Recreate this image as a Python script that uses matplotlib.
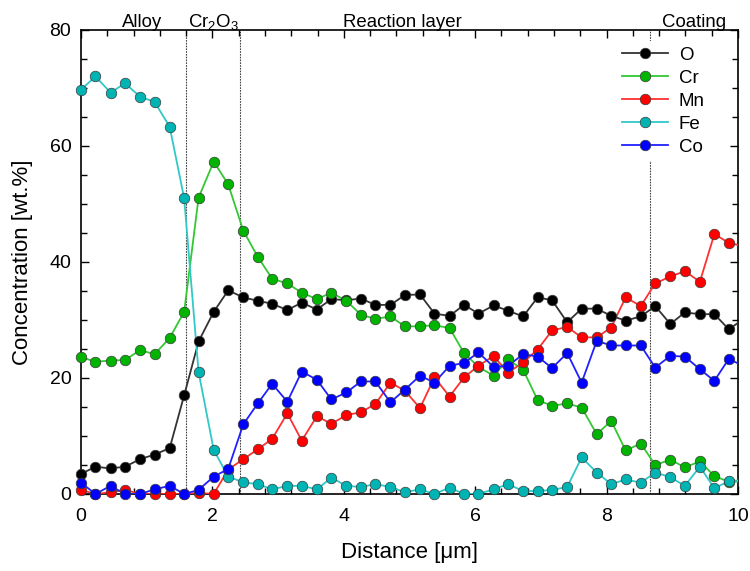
import numpy as np
import matplotlib
matplotlib.use("Agg")
import matplotlib.pyplot as plt
from matplotlib.lines import Line2D
from matplotlib.ticker import MultipleLocator

plt.rcParams['font.family'] = ['Liberation Sans', 'DejaVu Sans']
plt.rcParams['mathtext.fontset'] = 'custom'
plt.rcParams['mathtext.rm'] = 'Liberation Sans'
plt.rcParams['mathtext.it'] = 'Liberation Sans:italic'

distance = [0.00, 0.22, 0.45, 0.67, 0.90, 1.12, 1.35, 1.57, 1.79, 2.02, 2.24, 2.47,
            2.69, 2.91, 3.14, 3.36, 3.59, 3.81, 4.04, 4.26, 4.48, 4.71, 4.93, 5.16,
            5.38, 5.61, 5.83, 6.05, 6.28, 6.50, 6.73, 6.95, 7.17, 7.40, 7.62, 7.85,
            8.07, 8.29, 8.52, 8.74, 8.97, 9.19, 9.42, 9.64, 9.86, 10.09]

O = [3.45, 4.7, 4.4, 4.7, 6.0, 6.8, 7.9, 17.0, 26.3, 31.4, 35.1, 33.9, 33.3, 32.8,
     31.7, 33.0, 31.8, 33.6, 33.4, 33.7, 32.6, 32.6, 34.3, 34.4, 31.1, 30.7, 32.6,
     31.1, 32.5, 31.6, 30.6, 33.9, 33.4, 29.6, 31.95, 31.95, 30.7, 29.9, 30.6, 32.4,
     29.3, 31.3, 31.0, 31.0, 28.4, 30.2]
Cr = [23.6, 22.8, 23.0, 23.1, 24.8, 24.1, 26.9, 31.4, 51.1, 57.3, 53.4, 45.4, 40.9,
      37.1, 36.3, 34.7, 33.6, 34.7, 33.3, 30.9, 30.2, 30.6, 28.9, 28.9, 29.1, 28.6,
      24.3, 21.9, 20.4, 23.2, 21.4, 16.2, 15.2, 15.6, 14.9, 10.3, 12.6, 7.5, 8.7, 5.0,
      5.9, 4.6, 5.6, 3.1, 2.1, 2.2]
Mn = [0.7, 0.0, 0.3, 0.7, 0.0, 0.0, 0.0, 0.0, 0.2, 0.0, 4.2, 6.0, 7.7, 9.5, 13.9, 9.2,
      13.4, 12.1, 13.6, 14.1, 15.5, 19.2, 17.8, 14.8, 20.1, 16.8, 20.1, 22.1, 23.8,
      20.9, 22.7, 24.9, 28.2, 28.8, 27.0, 27.0, 28.7, 33.9, 32.4, 36.3, 37.5, 38.4,
      36.6, 44.8, 43.3, 42.7]
Fe = [69.7, 72.0, 69.2, 70.8, 68.5, 67.6, 63.3, 51.0, 21.0, 7.6, 3.0, 2.0, 1.7, 0.8,
      1.4, 1.4, 0.8, 2.8, 1.4, 1.2, 1.7, 1.2, 0.3, 0.8, 0.0, 1.1, 0.0, 0.0, 0.8, 1.7,
      0.5, 0.5, 0.7, 1.2, 6.3, 3.7, 1.7, 2.5, 1.95, 3.7, 2.9, 1.4, 4.7, 1.0, 2.2, 2.4]
Co = [1.95, 0.0, 1.4, 0.0, 0.0, 0.8, 1.4, 0.0, 0.7, 3.0, 4.3, 12.0, 15.6, 19.0, 15.9,
      21.1, 19.7, 16.3, 17.5, 19.4, 19.4, 15.8, 18.0, 20.4, 19.2, 22.1, 22.6, 24.4,
      21.9, 22.1, 24.1, 23.7, 21.7, 24.3, 19.2, 26.4, 25.6, 25.6, 25.6, 21.8, 23.8,
      23.7, 21.5, 19.5, 23.3, 22.0]

series_names = ['O', 'Cr', 'Mn', 'Fe', 'Co']
series_values = [O, Cr, Mn, Fe, Co]
marker_colors = ['#000000', '#00b400', '#ff0000', '#00b4b4', '#0000ff']
line_colors = ['#333333', '#33c833', '#ff3030', '#30c8c8', '#2020ff']

boundaries = [1.60, 2.42, 8.665]
region_labels = ['Alloy', r'Cr$_2$O$_3$', 'Reaction layer', 'Coating']
region_centers = [0.93, 2.01, 4.89, 9.33]

fig = plt.figure(figsize=(7.5, 5.71), dpi=100)
ax = fig.add_axes([0.108, 0.1349, 0.876, 0.8126])

x = np.array(distance)
inside = x <= 10.0
handles = []
for name, vals, mc, lc in zip(series_names, series_values, marker_colors, line_colors):
    y = np.array(vals)
    ax.plot(x, y, '-', color=lc, lw=1.3, zorder=3)
    ax.plot(x[inside], y[inside], 'o', ms=7.6, mfc=mc, mec='#3a3a3a', mew=0.5,
            clip_on=False, zorder=4)
    handles.append(Line2D([], [], color=lc, lw=1.3, marker='o', ms=7.6, mfc=mc,
                          mec='#3a3a3a', mew=0.5, label=name))

for b in boundaries:
    ax.axvline(b, color='#444444', lw=0.8, ls=(0, (1.5, 1.0)), zorder=1)

for lab, cx in zip(region_labels, region_centers):
    ax.text(cx, 80.5, lab, ha='center', va='baseline', fontsize=13.4, clip_on=False)

ax.set_xlim(0, 10)
ax.set_ylim(0, 80)
ax.xaxis.set_major_locator(MultipleLocator(2))
ax.xaxis.set_minor_locator(MultipleLocator(0.4))
ax.yaxis.set_major_locator(MultipleLocator(20))
ax.yaxis.set_minor_locator(MultipleLocator(5))
ax.tick_params(which='both', direction='in', top=True, right=True, width=1.0,
               labelsize=14)
ax.tick_params(which='major', length=6)
ax.tick_params(which='minor', length=4)
ax.tick_params(axis='x', pad=10)
ax.tick_params(axis='y', pad=7)
for s in ax.spines.values():
    s.set_linewidth(1.2)

ax.set_xlabel('Distance [μm]', fontsize=16, labelpad=12)
ax.set_ylabel('Concentration [wt.%]', fontsize=16, labelpad=12)

leg = ax.legend(handles=handles, loc='upper left', bbox_to_anchor=(0.8, 0.996),
                fontsize=13.5, frameon=True, framealpha=1, edgecolor='none',
                facecolor='white', fancybox=False, handlelength=2.45,
                handletextpad=0.6, labelspacing=0.31, borderpad=0.3)
leg.set_zorder(5)

fig.savefig('out.png', dpi=100)
